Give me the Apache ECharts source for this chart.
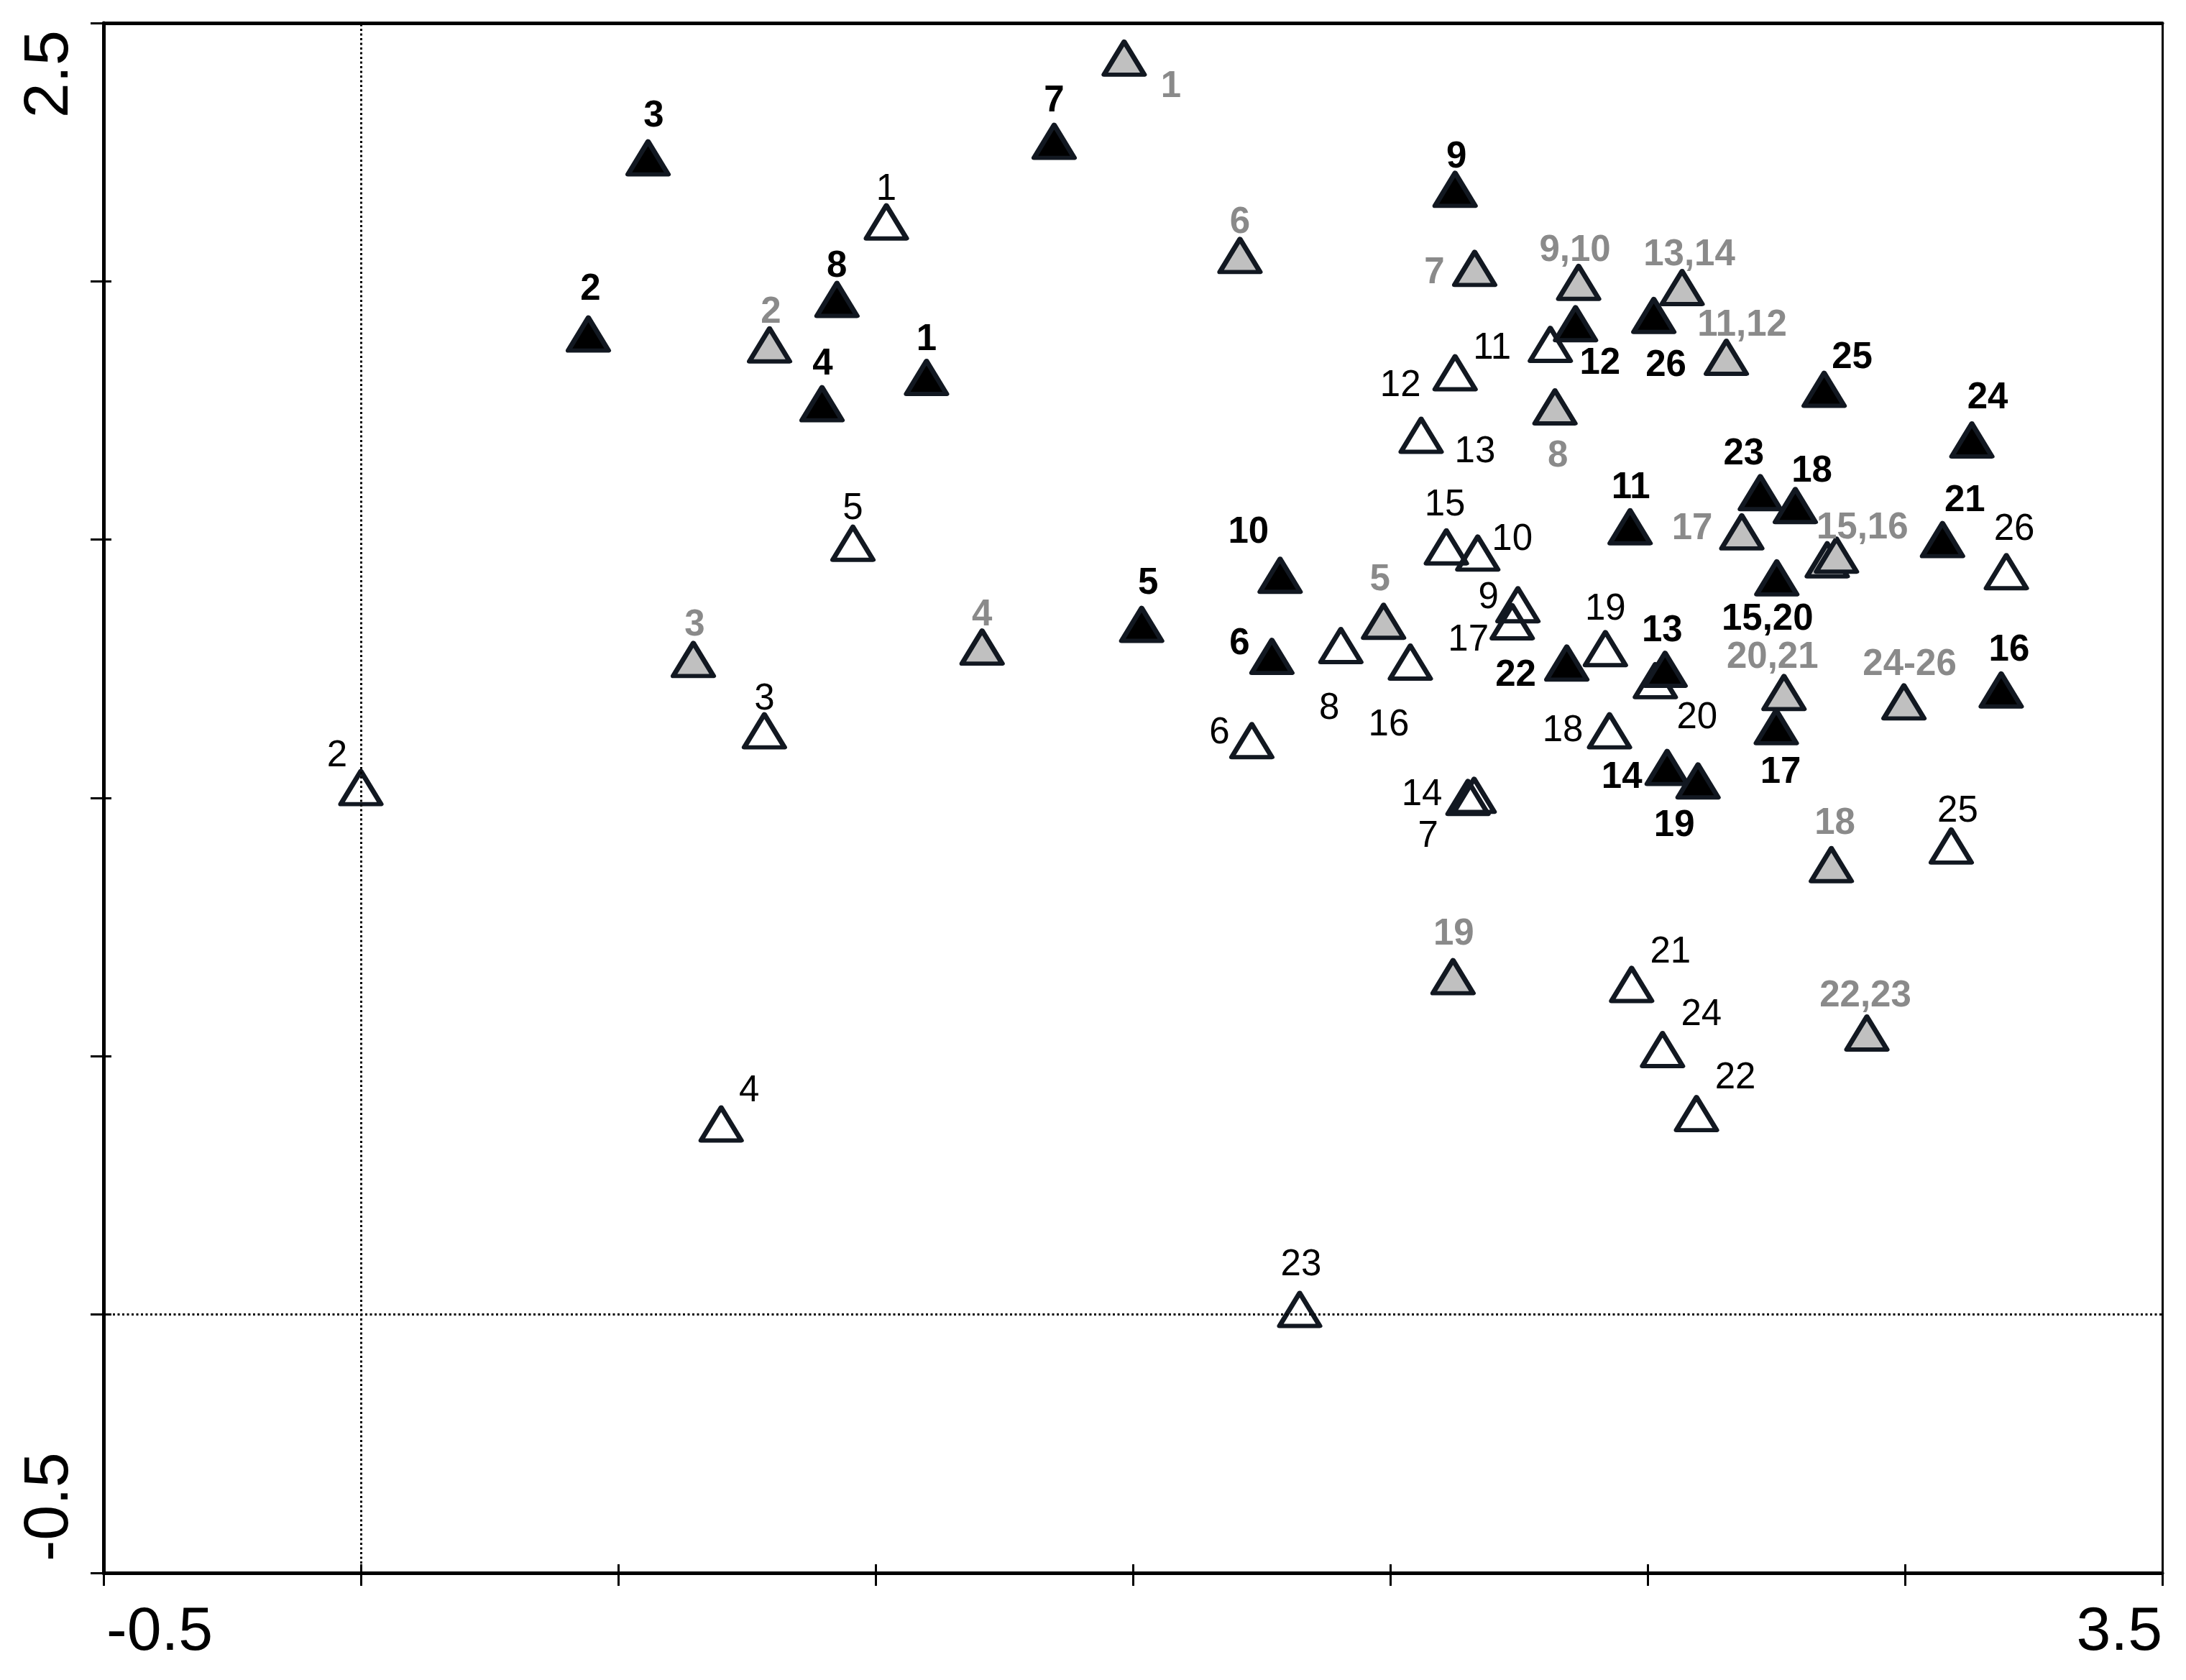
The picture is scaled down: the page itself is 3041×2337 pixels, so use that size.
<!DOCTYPE html>
<html>
<head>
<meta charset="utf-8">
<script src="https://cdn.jsdelivr.net/npm/echarts@6/dist/echarts.min.js"></script>
<style>
  html, body { margin: 0; padding: 0; background: #fff; }
  #chart { width: 3041px; height: 2337px; }
</style>
</head>
<body>
<div id="chart"></div>
<script>
// --- data ---
const xEndLabels = ['-0.5', '3.5'];
const yEndLabels = ['-0.5', '2.5'];

// black triangles (bold black labels)
const blackNames = ['1', '2', '3', '4', '5', '6', '7', '8', '9', '10', '11', '12', '13',
  '14', '15,20', '16', '17', '18', '19', '21', '22', '23', '24', '25', '26'];
const blackX = [1.099, 0.442, 0.558, 0.896, 1.517, 1.770, 1.347, 0.925, 2.126, 1.786, 2.466, 2.360, 2.534,
  2.538, 2.751, 3.187, 2.750, 2.787, 2.598, 3.073, 2.343, 2.719, 3.130, 2.843, 2.512];
const blackY = [1.814, 1.898, 2.239, 1.763, 1.336, 1.274, 2.271, 1.965, 2.178, 1.431, 1.525, 1.918, 1.249,
  1.059, 1.426, 1.209, 1.138, 1.566, 1.033, 1.500, 1.261, 1.591, 1.693, 1.791, 1.934];

// grey triangles (bold grey labels); the first '15,16' is the hidden twin
const greyNames = ['1', '2', '3', '4', '5', '6', '7', '8', '9,10', '11,12', '13,14', '', '15,16',
  '17', '18', '19', '20,21', '22,23', '24-26'];
const greyX = [1.483, 0.794, 0.646, 1.207, 1.987, 1.708, 2.164, 2.320, 2.366, 2.653, 2.567, 2.849, 2.867,
  2.683, 2.857, 2.122, 2.765, 2.926, 2.998];
const greyY = [2.432, 1.877, 1.268, 1.292, 1.342, 2.050, 2.025, 1.757, 1.998, 1.853, 1.988, 1.461, 1.470,
  1.515, 0.871, 0.654, 1.204, 0.545, 1.186];

// open triangles (plain labels)
const openNames = ['1', '2', '3', '4', '5', '6', '7', '8', '9', '10', '11', '12', '13',
  '14', '15', '16', '17', '18', '19', '20', '21', '22', '23', '24', '25', '26'];
const openX = [1.021, 0.000, 0.784, 0.700, 0.956, 1.731, 2.163, 1.904, 2.248, 2.170, 2.311, 2.126, 2.060,
  2.151, 2.109, 2.039, 2.237, 2.426, 2.418, 2.515, 2.469, 2.595, 1.824, 2.529, 3.090, 3.197];
const openY = [2.115, 1.020, 1.130, 0.369, 1.493, 1.111, 1.005, 1.295, 1.374, 1.474, 1.878, 1.823, 1.702,
  1.001, 1.486, 1.263, 1.341, 1.130, 1.289, 1.227, 0.639, 0.389, 0.010, 0.513, 0.907, 1.438];

// --- label placement (pixel offsets from the marker centre) ---
const blackLabelOffset = [[0, -52], [3, -62], [8, -58], [1, -55], [9, -57], [-45, -17], [0, -56], [0, -46],
  [2, -44], [-44, -59], [1, -54], [34, 56], [-4, -53], [-63, 14], [-13, 58], [11, -55], [6, 64], [23, -47],
  [-33, 63], [31, -54], [-71, 18], [-23, -53], [22, -58], [39, -44], [17, 70]];
const greyLabelOffset = [[65, 40], [2, -45], [2, -47], [0, -44], [-5, -57], [0, -45], [-56, 7], [4, 69],
  [-5, -44], [22, -44], [10, -45], [0, 0], [36, -37], [-69, -4], [5, -57], [1, -59], [-16, -48], [-2, -51],
  [8, -51]];
const openLabelOffset = [[0, -45], [-33, -44], [0, -44], [39, -46], [0, -48], [-45, -10], [-64, 58],
  [-16, 88], [-41, -9], [48, -18], [-81, 6], [-76, 18], [75, 23], [-64, -3], [-2, -58], [-30, 88],
  [-61, 26], [-65, 0], [0, -54], [58, 52], [54, -45], [54, -49], [2, -62], [54, -48], [9, -48], [11, -58]];

const FONT = "'Liberation Sans', Arial, sans-serif";
const EDGE = '#121821';

const buildData = (names, xs, ys, offsets) =>
  names.map((n, i) => ({
    name: n,
    value: [xs[i], ys[i]],
    label: { offset: offsets[i] }
  }));

const triSeries = (name, data, fill, labelColor, bold, z) => ({
  name,
  type: 'scatter',
  z,
  symbol: 'triangle',
  symbolSize: [56, 46],
  itemStyle: {
    color: fill,
    borderColor: EDGE,
    borderWidth: 6.5,
    borderJoin: 'round',
    opacity: 1
  },
  label: {
    show: true,
    position: 'inside',
    formatter: '{b}',
    color: labelColor,
    fontSize: 51,
    fontWeight: bold ? 'bold' : 'normal',
    fontFamily: FONT,
    align: 'center',
    verticalAlign: 'middle'
  },
  emphasis: { disabled: true },
  data
});

const chart = echarts.init(document.getElementById('chart'), null, { renderer: 'canvas' });

const openSeries = triSeries('open', buildData(openNames, openX, openY, openLabelOffset),
  'rgba(255,255,255,0)', '#000', false, 3);
openSeries.markLine = {
  silent: true,
  symbol: 'none',
  label: { show: false },
  lineStyle: { color: '#000', width: 3, type: [3, 3.5] },
  data: [{ xAxis: 0 }, { yAxis: 0 }]
};

// only the two end values carry a label; rich blocks keep them off the corner
const endLabel = (list) => (v) => {
  if (Math.abs(v - parseFloat(list[0])) < 1e-6) return '{lo|' + list[0] + '}';
  if (Math.abs(v - parseFloat(list[1])) < 1e-6) return '{hi|' + list[1] + '}';
  return '';
};

const lineOff = (width) => ({ onZero: false, lineStyle: { color: '#000', width } });

chart.setOption({
  animation: false,
  backgroundColor: '#fff',
  grid: { left: 144, right: 33, top: 32, bottom: 149, containLabel: false },
  xAxis: [
    {
      type: 'value', min: -0.5, max: 3.5, interval: 0.5, position: 'bottom',
      axisLine: lineOff(5),
      axisTick: { length: 18, lineStyle: { color: '#000', width: 3 } },
      splitLine: { show: false },
      axisLabel: {
        formatter: endLabel(xEndLabels),
        color: '#000', fontSize: 86, fontFamily: FONT, margin: 40,
        showMinLabel: true, showMaxLabel: true,
        alignMinLabel: 'left', alignMaxLabel: 'right',
        rich: {
          lo: { fontSize: 86, fontFamily: FONT, color: '#000', padding: [0, 0, 0, 4] },
          hi: { fontSize: 86, fontFamily: FONT, color: '#000' }
        }
      }
    },
    {
      type: 'value', min: -0.5, max: 3.5, position: 'top',
      axisLine: lineOff(5),
      axisTick: { show: false }, axisLabel: { show: false }, splitLine: { show: false }
    },
    {
      type: 'value', min: -0.5, max: 3.5, interval: 0.5, position: 'bottom',
      axisLine: { show: false, onZero: false },
      axisTick: { inside: true, length: 12, lineStyle: { color: '#000', width: 3 } },
      axisLabel: { show: false }, splitLine: { show: false }
    }
  ],
  yAxis: [
    {
      type: 'value', min: -0.5, max: 2.5, interval: 0.5, position: 'left',
      axisLine: lineOff(5),
      axisTick: { length: 18, lineStyle: { color: '#000', width: 3 } },
      splitLine: { show: false },
      axisLabel: {
        formatter: endLabel(yEndLabels),
        rotate: 90,
        color: '#000', fontSize: 86, fontFamily: FONT, margin: 30,
        showMinLabel: true, showMaxLabel: true,
        alignMinLabel: 'left', alignMaxLabel: 'right',
        rich: {
          lo: { fontSize: 88, fontFamily: FONT, color: '#000', padding: [0, 0, 0, 16] },
          hi: { fontSize: 88, fontFamily: FONT, color: '#000', padding: [0, 10, 0, 0] }
        }
      }
    },
    {
      type: 'value', min: -0.5, max: 2.5, position: 'right',
      axisLine: lineOff(3),
      axisTick: { show: false }, axisLabel: { show: false }, splitLine: { show: false }
    },
    {
      type: 'value', min: -0.5, max: 2.5, interval: 0.5, position: 'left',
      axisLine: { show: false, onZero: false },
      axisTick: { inside: true, length: 11, lineStyle: { color: '#000', width: 3 } },
      axisLabel: { show: false }, splitLine: { show: false }
    }
  ],
  series: [
    openSeries,
    triSeries('grey', buildData(greyNames, greyX, greyY, greyLabelOffset), '#c0c0c0', '#8a8a8a', true, 4),
    triSeries('black', buildData(blackNames, blackX, blackY, blackLabelOffset), '#000', '#000', true, 5)
  ]
});
</script>
</body>
</html>
